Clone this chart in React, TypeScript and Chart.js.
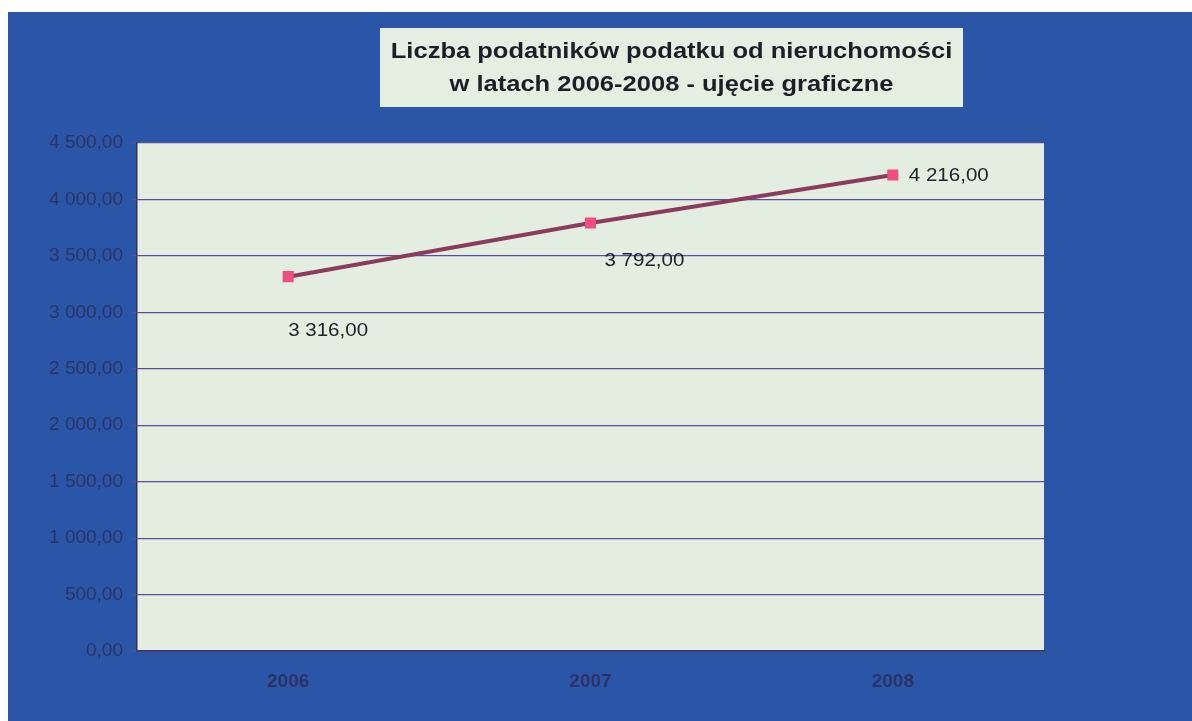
import React, { useEffect, useRef } from "react";
import { Chart, registerables } from "chart.js";

Chart.register(...registerables);

const categories: string[] = ["2006", "2007", "2008"];
const taxpayers: number[] = [3316, 3792, 4216];
const titleLines: string[] = [
  "Liczba podatników podatku od nieruchomości",
  "w latach 2006-2008 - ujęcie graficzne",
];
const yMin = 0;
const yMax = 4500;
const yStep = 500;

const fmt = (v: number) => {
  const [i, d] = v.toFixed(2).split(".");
  const int = i.replace(/\B(?=(\d{3})+(?!\d))/g, " ");
  return `${int},${d}`;
};

const labelOffsets = [
  { dx: 0, dy: 54 },
  { dx: 14, dy: 38 },
  { dx: 16, dy: 1 },
];

const FONT = "'Liberation Sans', Arial, sans-serif";

const decorPlugin = {
  id: "decor",
  beforeDraw(chart: any) {
    const { ctx, chartArea } = chart;
    ctx.save();
    ctx.fillStyle = "#e3eee0";
    ctx.fillRect(chartArea.left, chartArea.top, chartArea.right - chartArea.left, chartArea.bottom - chartArea.top);
    // title box
    const bx = 372, by = 16, bw = 583, bh = 79;
    ctx.fillStyle = "#e4efe1";
    ctx.fillRect(bx, by, bw, bh);
    ctx.fillStyle = "#1e1e28";
    ctx.font = `bold 22px ${FONT}`;
    ctx.textAlign = "center";
    ctx.textBaseline = "middle";
    const sx = 1.16;
    ctx.save();
    ctx.translate(bx + bw / 2, 0);
    ctx.scale(sx, 1);
    ctx.fillText(titleLines[0], 0, 40);
    ctx.fillText(titleLines[1], 0, 73);
    ctx.restore();
    ctx.restore();
  },
  afterDatasetsDraw(chart: any) {
    const { ctx } = chart;
    const meta = chart.getDatasetMeta(0);
    ctx.save();
    ctx.fillStyle = "#22222e";
    ctx.font = `18px ${FONT}`;
    ctx.textAlign = "left";
    ctx.textBaseline = "middle";
    meta.data.forEach((pt: any, i: number) => {
      const off = labelOffsets[i];
      ctx.save();
      ctx.translate(pt.x + off.dx, pt.y + off.dy);
      ctx.scale(1.14, 1);
      ctx.fillText(fmt(taxpayers[i]), 0, 0);
      ctx.restore();
    });
    ctx.restore();
  },
};

export default function App() {
  const ref = useRef<HTMLCanvasElement>(null);
  useEffect(() => {
    if (!ref.current) return;
    const chart = new Chart(ref.current, {
      type: "line",
      data: {
        labels: categories,
        datasets: [
          {
            data: taxpayers,
            borderColor: "#8a3b5e",
            borderWidth: 4,
            pointStyle: "rect",
            pointRadius: 5,
            pointBackgroundColor: "#ee4f80",
            pointBorderColor: "#ee4f80",
            tension: 0,
          },
        ],
      },
      options: {
        animation: false,
        responsive: false,
        maintainAspectRatio: false,
        layout: { padding: { top: 131, right: 148, left: 0, bottom: 0 } },
        plugins: { legend: { display: false }, title: { display: false }, tooltip: { enabled: false } },
        scales: {
          x: {
            offset: true,
            grid: { display: false, drawTicks: false },
            border: { display: true, color: "#4a2e5e", width: 1.5 },
            ticks: {
              padding: 19,
              color: "#2a3366",
              font: { family: FONT, size: 19, weight: "bold" },
            },
            afterFit: (s: any) => {
              s.height = 70;
            },
          },
          y: {
            min: yMin,
            max: yMax,
            grid: { color: "#5a4c9e", lineWidth: 1.2, tickLength: 5 },
            border: { display: true, color: "#3a3050", width: 1.5 },
            ticks: {
              stepSize: yStep,
              padding: 9,
              color: "#2a3366",
              font: { family: FONT, size: 19 },
              callback: (v: any) => fmt(Number(v)),
            },
            afterFit: (s: any) => {
              s.width = 129;
            },
          },
        },
      },
      plugins: [decorPlugin],
    });
    return () => chart.destroy();
  }, []);
  return (
    <div style={{ position: "fixed", left: 0, top: 0, width: 1192, height: 721, background: "#ffffff" }}>
      <canvas
        ref={ref}
        width={1184}
        height={709}
        style={{ position: "absolute", left: 8, top: 12, width: 1184, height: 709, background: "#2b56a8" }}
      />
    </div>
  );
}
